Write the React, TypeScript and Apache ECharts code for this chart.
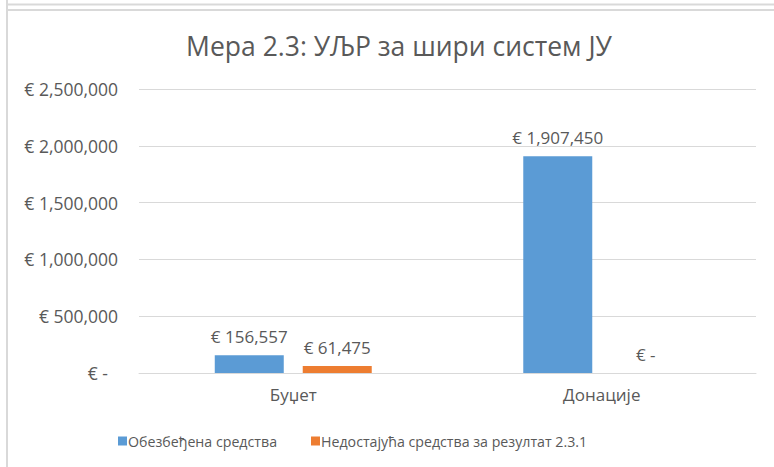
import React, { useEffect, useRef } from "react";
import * as echarts from "echarts";

const TITLE = "Мера 2.3: УЉР за шири систем ЈУ";
const categories = ["Буџет", "Донације"];
const seriesNames = ["Обезбеђена средства", "Недостајућа средства за резултат 2.3.1"];
const secured = [156557, 1907450];
const missing = [61475, 0];
const yMin = 0;
const yMax = 2500000;
const yInterval = 500000;

const FONT = "'Open Sans', 'Noto Sans', sans-serif";
const GRAY = "#595959";
const LINE = "#d9d9d9";

const euro = (v: number) => (v === 0 ? "€ -" : "€ " + Math.round(v).toLocaleString("en-US"));

export default function App() {
  const ref = useRef<HTMLDivElement>(null);
  useEffect(() => {
    if (!ref.current) return;
    const chart = echarts.init(ref.current, null, { renderer: "svg" });
    const labelCfg = {
      show: true,
      position: "top" as const,
      distance: 10,
      color: GRAY,
      fontFamily: FONT,
      fontSize: 17,
      formatter: (p: any) => euro(p.value),
    };
    chart.setOption({
      animation: false,
      backgroundColor: "#ffffff",
      title: {
        text: TITLE,
        left: 394,
        textAlign: "center",
        top: 27,
        textStyle: { color: GRAY, fontFamily: FONT, fontSize: 26.5, fontWeight: "normal" },
      },
      legend: {
        left: 113,
        top: 429,
        itemWidth: 9,
        itemHeight: 9,
        itemGap: 34,
        icon: "rect",
        textStyle: { color: GRAY, fontFamily: FONT, fontSize: 14.2, padding: [0, 0, 0, -4] },
        data: seriesNames,
      },
      grid: { left: 139, right: 18, top: 89, bottom: 94, containLabel: false },
      xAxis: {
        type: "category",
        data: categories,
        axisLine: { show: true, lineStyle: { color: LINE, width: 1 } },
        axisTick: { show: false },
        axisLabel: { color: GRAY, fontFamily: FONT, fontSize: 17, margin: 13 },
      },
      yAxis: {
        type: "value",
        min: yMin,
        max: yMax,
        interval: yInterval,
        axisLine: { show: false },
        axisTick: { show: false },
        splitLine: { lineStyle: { color: LINE, width: 1 } },
        axisLabel: {
          color: GRAY,
          fontFamily: FONT,
          fontSize: 17.5,
          margin: 21,
          formatter: (v: number) => (v === 0 ? "{z|€ -}" : euro(v)),
          rich: { z: { color: GRAY, fontFamily: FONT, fontSize: 17.5, padding: [0, 10, 0, 0] } },
        },
      },
      graphic: [
        { type: "line", shape: { x1: 7, y1: 4.5, x2: 774, y2: 4.5 }, style: { stroke: LINE, lineWidth: 2 } },
        { type: "line", shape: { x1: 7, y1: 10, x2: 774, y2: 10 }, style: { stroke: LINE, lineWidth: 2 } },
        { type: "line", shape: { x1: 7, y1: 0, x2: 7, y2: 467 }, style: { stroke: LINE, lineWidth: 2 } },
      ],
      series: [
        {
          name: seriesNames[0],
          type: "bar",
          data: secured,
          barWidth: 69,
          barGap: "27.5%",
          itemStyle: { color: "#5B9BD5" },
          label: labelCfg,
        },
        {
          name: seriesNames[1],
          type: "bar",
          data: missing,
          barWidth: 69,
          barGap: "27.5%",
          itemStyle: { color: "#ED7D31" },
          label: labelCfg,
        },
      ],
    });
    return () => chart.dispose();
  }, []);
  return <div ref={ref} style={{ width: 774, height: 467, position: "absolute", left: 0, top: 0 }} />;
}
